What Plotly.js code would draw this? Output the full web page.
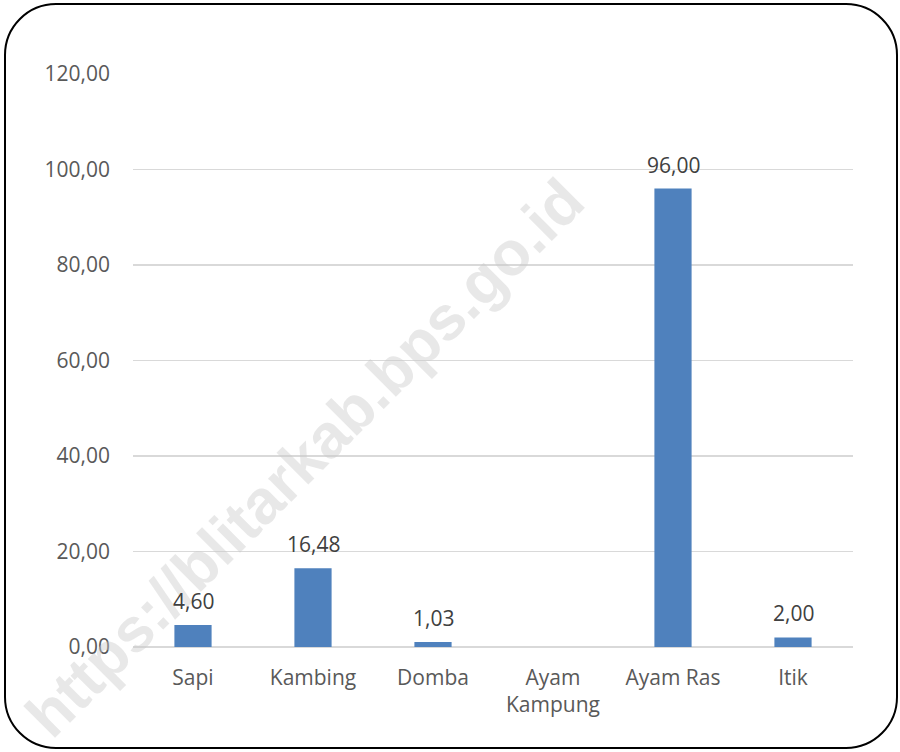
<!DOCTYPE html>
<html>
<head>
<meta charset="utf-8">
<script src="https://cdn.plot.ly/plotly-3.0.1.min.js"></script>
<style>
  html, body { margin: 0; padding: 0; background: #ffffff; }
  #wrap { position: relative; width: 900px; height: 752px; }
  #frame { position: absolute; left: 4px; top: 3px; width: 890px; height: 742px;
           border: 2px solid #000; border-radius: 52px; box-sizing: content-box; pointer-events: none; z-index: 2; }
  #chart { position: absolute; left: 0; top: 0; width: 900px; height: 752px; }
</style>
</head>
<body>
<div id="wrap">
  <div id="chart"></div>
  <div id="frame"></div>
</div>
<script>
const categories = ["Sapi", "Kambing", "Domba", "Ayam<br>Kampung", "Ayam Ras", "Itik"];
const values = [4.60, 16.48, 1.03, null, 96.00, 2.00];
const yTicks = [0, 20, 40, 60, 80, 100, 120];
const watermark = "https://blitarkab.bps.go.id";

const trace = {
  type: "bar",
  x: categories,
  y: values,
  marker: { color: "#4f81bd" },
  hoverinfo: "skip"
};

// data labels placed through the axes' own scales
const labelAnnotations = [];
categories.forEach((c, i) => {
  if (values[i] === null) return;
  labelAnnotations.push({
    x: c, y: values[i], xref: "x", yref: "y",
    text: values[i].toFixed(2).replace(".", ","),
    showarrow: false,
    xanchor: "center", yanchor: "middle",
    yshift: 24,
    font: { family: "Open Sans", size: 21, color: "#404040" }
  });
});

const layout = {
  width: 900,
  height: 752,
  margin: { l: 133, r: 47, t: 74, b: 105 },
  paper_bgcolor: "rgba(0,0,0,0)",
  plot_bgcolor: "rgba(0,0,0,0)",
  separators: ",.",
  bargap: 0.69,
  showlegend: false,
  font: { family: "Open Sans", size: 21, color: "#595959" },
  xaxis: {
    type: "category",
    showgrid: false,
    showline: false,
    zeroline: false,
    ticks: "",
    ticklabelstandoff: 16,
    tickfont: { family: "Open Sans", size: 21, color: "#595959" },
    automargin: false
  },
  yaxis: {
    range: [0, 120],
    tickvals: yTicks,
    tickformat: ".2f",
    showgrid: true,
    gridcolor: "#d9d9d9",
    gridwidth: 1.5,
    zeroline: true,
    zerolinecolor: "#d9d9d9",
    zerolinewidth: 1.5,
    showline: false,
    ticks: "",
    ticklabelstandoff: 22,
    tickfont: { family: "Open Sans", size: 21, color: "#595959" },
    automargin: false
  },
  annotations: [{
    text: "<b>" + watermark + "</b>",
    xref: "paper", yref: "paper",
    x: 0.239, y: 0.330,
    xanchor: "center", yanchor: "middle",
    textangle: -45,
    showarrow: false,
    font: { family: "Liberation Sans", size: 62, color: "rgba(200,200,200,0.42)" }
  }].concat(labelAnnotations)
};

Plotly.newPlot("chart", [trace], layout, { displayModeBar: false, staticPlot: true });
</script>
</body>
</html>
